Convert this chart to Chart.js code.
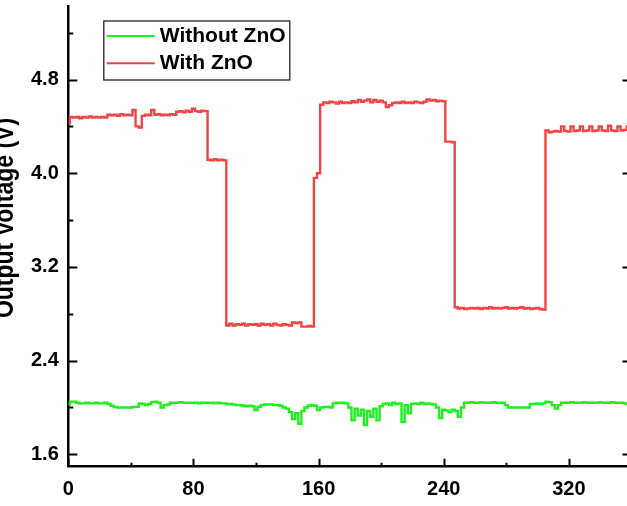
<!DOCTYPE html>
<html>
<head>
<meta charset="utf-8">
<script src="https://cdn.jsdelivr.net/npm/chart.js@4.4.1/dist/chart.umd.min.js"></script>
<style>
  html, body { margin: 0; padding: 0; overflow: hidden; background: #fff; }
  #wrap { position: absolute; left: -20px; top: 0; width: 660px; height: 506px; }
</style>
</head>
<body>
<div id="wrap"><canvas id="voltChart"></canvas></div>
<script>
// sample times (s)
const timeS = [
  0, 2, 4, 6, 8, 10, 12, 14, 16, 18,
  20, 22, 24, 26, 28, 30, 32, 34, 36, 38,
  40, 42, 44, 46, 48, 50, 52, 54, 56, 58,
  60, 62, 64, 66, 68, 70, 72, 74, 76, 78,
  80, 82, 84, 86, 88, 90, 92, 94, 96, 98,
  100, 102, 104, 106, 108, 110, 112, 114, 116, 118,
  120, 122, 124, 126, 128, 130, 132, 134, 136, 138,
  140, 142, 144, 146, 148, 150, 152, 154, 156, 158,
  160, 162, 164, 166, 168, 170, 172, 174, 176, 178,
  180, 182, 184, 186, 188, 190, 192, 194, 196, 198,
  200, 202, 204, 206, 208, 210, 212, 214, 216, 218,
  220, 222, 224, 226, 228, 230, 232, 234, 236, 238,
  240, 242, 244, 246, 248, 250, 252, 254, 256, 258,
  260, 262, 264, 266, 268, 270, 272, 274, 276, 278,
  280, 282, 284, 286, 288, 290, 292, 294, 296, 298,
  300, 302, 304, 306, 308, 310, 312, 314, 316, 318,
  320, 322, 324, 326, 328, 330, 332, 334, 336, 338,
  340, 342, 344, 346, 348, 350, 352, 354, 356, 358,
  360
];

// Output voltage without ZnO (V)
const withoutZnO = [
  2.03, 2.05, 2.05, 2.04, 2.035, 2.035, 2.04, 2.035, 2.035, 2.04,
  2.035, 2.035, 2.04, 2.03, 2.015, 2.005, 2.0, 2.0, 2.0, 2.0,
  2.0, 2.005, 2.005, 2.035, 2.03, 2.02, 2.03, 2.045, 2.05, 2.04,
  2.0, 2.02, 2.025, 2.04, 2.04, 2.04, 2.045, 2.04, 2.04, 2.04,
  2.04, 2.04, 2.035, 2.04, 2.04, 2.04, 2.04, 2.035, 2.04, 2.035,
  2.035, 2.03, 2.03, 2.025, 2.02, 2.02, 2.015, 2.01, 2.015, 2.01,
  1.978, 2.005, 2.02, 2.025, 2.025, 2.025, 2.02, 2.02, 2.015, 2.0,
  1.99, 1.96, 1.90, 1.95, 1.86, 1.97, 2.0, 2.015, 2.02, 2.015,
  1.978, 2.0, 2.005, 2.005, 2.0, 2.035, 2.04, 2.04, 2.04, 2.035,
  2.0, 1.89, 1.99, 1.93, 1.98, 1.85, 1.97, 1.92, 1.99, 1.89,
  2.01, 2.03, 2.035, 2.02, 2.04, 2.03, 2.035, 1.875, 2.02, 1.95,
  2.03, 2.035, 2.03, 2.04, 2.03, 2.035, 2.03, 2.025, 2.0, 1.91,
  1.98, 1.975, 1.96, 1.98, 1.97, 1.92, 2.0, 2.04, 2.04, 2.045,
  2.04, 2.04, 2.045, 2.04, 2.04, 2.04, 2.045, 2.04, 2.04, 2.04,
  2.02, 2.0, 2.0, 2.0, 2.0, 2.0, 2.0, 2.0, 2.03, 2.03,
  2.035, 2.03, 2.035, 2.05, 2.045, 2.02, 1.99, 2.02, 2.04, 2.04,
  2.04, 2.045, 2.04, 2.04, 2.04, 2.045, 2.04, 2.04, 2.04, 2.04,
  2.045, 2.04, 2.04, 2.04, 2.045, 2.04, 2.04, 2.04, 2.035, 2.03,
  2.025
];

// Output voltage with ZnO (V)
const withZnO = [
  4.43, 4.48, 4.475, 4.48, 4.47, 4.48, 4.475, 4.485, 4.475, 4.48,
  4.475, 4.48, 4.475, 4.50, 4.495, 4.50, 4.49, 4.505, 4.495, 4.50,
  4.495, 4.54, 4.40, 4.39, 4.49, 4.50, 4.495, 4.54, 4.50, 4.505,
  4.495, 4.50, 4.495, 4.505, 4.50, 4.525, 4.53, 4.52, 4.535, 4.525,
  4.55, 4.53, 4.525, 4.535, 4.53, 4.115, 4.11, 4.12, 4.11, 4.115,
  4.11, 2.70, 2.715, 2.70, 2.71, 2.705, 2.715, 2.70, 2.71, 2.705,
  2.71, 2.70, 2.715, 2.705, 2.71, 2.70, 2.715, 2.705, 2.70, 2.71,
  2.705, 2.70, 2.725, 2.72, 2.725, 2.69, 2.69, 2.695, 2.69, 3.96,
  4.0, 4.585, 4.605, 4.60, 4.61, 4.605, 4.595, 4.61, 4.60, 4.605,
  4.60, 4.615, 4.605, 4.625, 4.61, 4.62, 4.63, 4.605, 4.625, 4.61,
  4.62, 4.605, 4.565, 4.58, 4.60, 4.605, 4.60, 4.61, 4.60, 4.605,
  4.60, 4.61, 4.605, 4.60, 4.61, 4.63, 4.62, 4.625, 4.615, 4.62,
  4.615, 4.27, 4.27, 4.265, 2.855, 2.845, 2.85, 2.84, 2.845, 2.85,
  2.845, 2.85, 2.84, 2.85, 2.845, 2.855, 2.845, 2.85, 2.845, 2.85,
  2.855, 2.845, 2.85, 2.845, 2.85, 2.855, 2.845, 2.85, 2.84, 2.845,
  2.85, 2.84, 2.835, 4.365, 4.35, 4.355, 4.36, 4.355, 4.40, 4.36,
  4.355, 4.40, 4.36, 4.365, 4.40, 4.36, 4.365, 4.40, 4.36, 4.365,
  4.40, 4.365, 4.36, 4.405, 4.365, 4.36, 4.40, 4.365, 4.37, 4.40,
  4.365
];

const seriesNames = ['Without ZnO', 'With ZnO'];
const xTicks = [0, 80, 160, 240, 320];
const xMinor = [40, 120, 200, 280];
const yTicks = [1.6, 2.4, 3.2, 4.0, 4.8];
const yMinor = [2.0, 2.8, 3.6, 4.4, 5.2];
const yTitle = 'Output Voltage (V)';

const FONT = "'Liberation Sans', Arial, sans-serif";
Chart.defaults.font.family = FONT;
Chart.defaults.color = '#000';

const toPoints = (vals) => vals.map((v, i) => ({ x: timeS[i], y: v }));

// inward ticks, like the original plot
const innerTicks = {
    id: 'innerTicks',
    afterDraw(chart) {
        const { ctx, chartArea: a, scales: { x, y } } = chart;
        ctx.save();
        ctx.strokeStyle = '#000';
        ctx.lineWidth = 2;
        ctx.beginPath();
        yTicks.forEach(v => {
            const p = Math.round(y.getPixelForValue(v)) + 0.5;
            ctx.moveTo(a.left, p); ctx.lineTo(a.left + 9, p);
            ctx.moveTo(a.right, p); ctx.lineTo(a.right - 9, p);
        });
        yMinor.forEach(v => {
            const p = Math.round(y.getPixelForValue(v)) + 0.5;
            ctx.moveTo(a.left, p); ctx.lineTo(a.left + 5, p);
        });
        xTicks.forEach(v => {
            const p = Math.round(x.getPixelForValue(v)) + 0.5;
            ctx.moveTo(p, a.bottom); ctx.lineTo(p, a.bottom - 8);
        });
        xMinor.forEach(v => {
            const p = Math.round(x.getPixelForValue(v)) + 0.5;
            ctx.moveTo(p, a.bottom); ctx.lineTo(p, a.bottom - 4);
        });
        ctx.stroke();
        // right axis line
        ctx.beginPath();
        ctx.moveTo(a.right, a.top); ctx.lineTo(a.right, a.bottom);
        ctx.stroke();
        ctx.restore();
    }
};

// y title sits partly off the left edge in the original
const sideTitle = {
    id: 'sideTitle',
    afterDraw(chart) {
        const { ctx } = chart;
        ctx.save();
        ctx.translate(33, 218);
        ctx.rotate(-Math.PI / 2);
        ctx.scale(1, 1.18);
        ctx.font = 'bold 23px ' + FONT;
        ctx.fillStyle = '#000';
        ctx.textAlign = 'center';
        ctx.textBaseline = 'alphabetic';
        ctx.fillText(yTitle, 0, 0);
        ctx.restore();
    }
};

// boxed legend inside the plot
const boxLegend = {
    id: 'boxLegend',
    afterDraw(chart) {
        const { ctx, chartArea: a } = chart;
        const x0 = a.left + 35.5, y0 = 21, w = 186, h = 59;
        ctx.save();
        ctx.fillStyle = '#fff';
        ctx.fillRect(x0, y0, w, h);
        ctx.strokeStyle = '#222';
        ctx.lineWidth = 1.3;
        ctx.strokeRect(x0, y0, w, h);
        chart.data.datasets.forEach((ds, i) => {
            const ly = y0 + 15 + i * 27.3;
            ctx.strokeStyle = ds.borderColor;
            ctx.lineWidth = 2;
            ctx.beginPath();
            ctx.moveTo(x0 + 3, ly); ctx.lineTo(x0 + 51, ly);
            ctx.stroke();
            ctx.fillStyle = '#000';
            ctx.font = 'bold 21px ' + FONT;
            ctx.textBaseline = 'middle';
            ctx.fillText(ds.label, x0 + 56, ly);
        });
        ctx.restore();
    }
};

new Chart(document.getElementById('voltChart'), {
    type: 'line',
    data: {
        datasets: [{
            label: seriesNames[0],
            data: toPoints(withoutZnO),
            borderColor: '#1ef01e',
            borderWidth: 2.4,
            pointRadius: 0,
            stepped: 'middle'
        }, {
            label: seriesNames[1],
            data: toPoints(withZnO),
            borderColor: '#f24444',
            borderWidth: 2.4,
            pointRadius: 0,
            stepped: 'middle'
        }]
    },
    options: {
        responsive: true,
        maintainAspectRatio: false,
        animation: false,
        events: [],
        layout: { padding: { left: 0, right: 8.5, top: 6, bottom: 0 } },
        plugins: { legend: { display: false }, tooltip: { enabled: false } },
        scales: {
            x: {
                type: 'linear',
                min: 0,
                max: 360,
                afterBuildTicks: s => { s.ticks = xTicks.map(v => ({ value: v })); },
                afterFit: s => { s.height = 39.3; s.paddingLeft = 0; s.paddingRight = 0; },
                grid: { drawOnChartArea: false, drawTicks: false },
                border: { color: '#000', width: 2.5 },
                ticks: { padding: 11, font: { size: 20, weight: 'bold' }, color: '#000', callback: v => String(v) }
            },
            y: {
                type: 'linear',
                min: 1.494,
                max: 5.428,
                afterBuildTicks: s => { s.ticks = yTicks.map(v => ({ value: v })); },
                afterFit: s => { s.width = 88.3; s.paddingTop = 0; s.paddingBottom = 0; },
                grid: { drawOnChartArea: false, drawTicks: false },
                border: { color: '#000', width: 2.5 },
                ticks: { padding: 9.5, font: { size: 20, weight: 'bold' }, color: '#000', callback: v => v.toFixed(1) }
            }
        }
    },
    plugins: [innerTicks, sideTitle, boxLegend]
});
</script>
</body>
</html>
